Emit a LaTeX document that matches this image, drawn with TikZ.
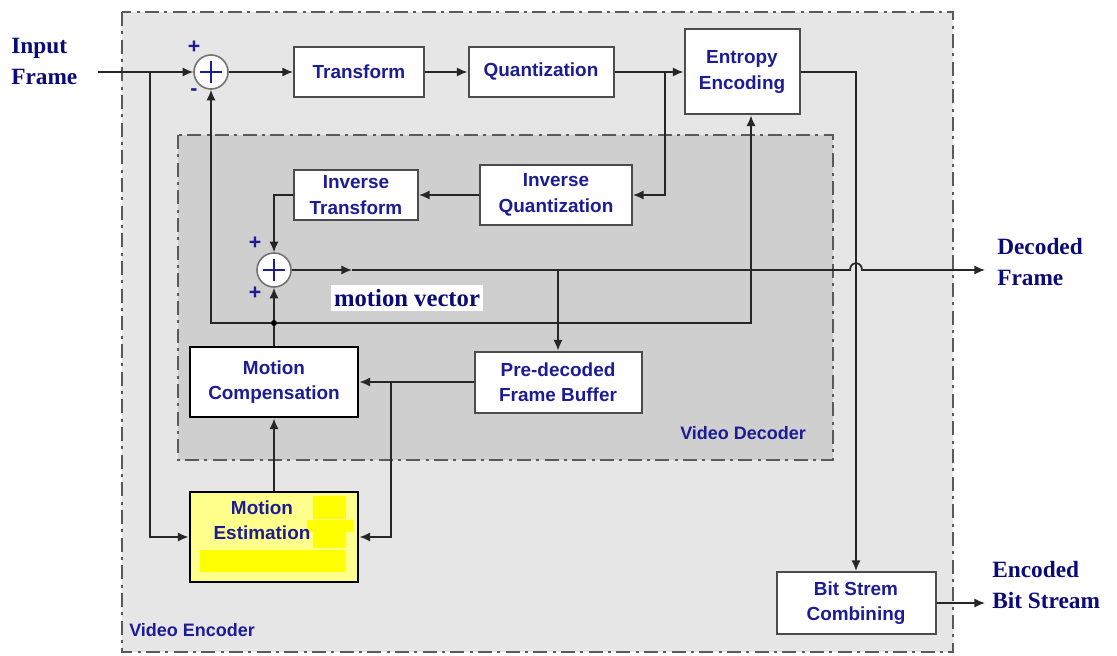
\documentclass[tikz,border=0pt]{standalone}
\usepackage{fontspec}
\setmainfont{Liberation Serif}
\setsansfont{Liberation Sans}
\usetikzlibrary{arrows.meta}
\definecolor{encbg}{HTML}{E6E6E6}
\definecolor{decbg}{HTML}{CFCFCF}
\definecolor{frameline}{HTML}{5A5A5A}
\definecolor{boxtext}{RGB}{28,28,150}
\definecolor{iotext}{RGB}{10,10,120}
\definecolor{mefill}{HTML}{FFFF8C}
\definecolor{mepatch}{HTML}{FFFF00}
\begin{document}
\begin{tikzpicture}[x=0.75pt,y=-0.75pt,
  conn/.style={line width=1.3pt, draw=black!85},
  arr/.style={conn, -{Latex[length=8pt,width=7pt]}},
  block/.style={draw=black!70, line width=1.5pt, fill=white, text=boxtext,
    font=\sffamily\bfseries\fontsize{14.2}{19}\selectfont, align=center, inner sep=0pt},
  heavy/.style={block, draw=black, line width=2.2pt},
  summer/.style={circle, draw=black!55, line width=1.2pt, fill=white, minimum size=34*0.75pt, inner sep=0pt},
  plus/.style={draw=boxtext, line width=0.9pt},
  sign/.style={text=boxtext, font=\sffamily\bfseries\fontsize{16}{16}\selectfont, inner sep=0pt},
  iolabel/.style={text=iotext, font=\rmfamily\bfseries\fontsize{17.5}{23}\selectfont, align=left, inner sep=0pt},
  region/.style={draw=frameline, line width=1.5pt,
    dash pattern=on 10.5pt off 4pt on 2.25pt off 4pt},
  regionlabel/.style={text=boxtext, font=\sffamily\bfseries\fontsize{13.5}{13.5}\selectfont, inner sep=0pt, anchor=west},
  dot/.style={circle, fill=black, inner sep=0pt, minimum size=4.5pt}
]
\useasboundingbox (0,0) rectangle (1117,656);

% encoder and decoder regions
\filldraw[region, fill=encbg] (122,12) rectangle (953,652);
\filldraw[region, fill=decbg] (178,135) rectangle (833,460);
\node[regionlabel] (enclabel) at (129,630) {Video Encoder};
\node[regionlabel] (declabel) at (680,433) {Video Decoder};

% processing blocks
\node[block, minimum width=130*0.75pt, minimum height=50*0.75pt] (transform) at (359,72) {Transform};
\node[block, minimum width=145*0.75pt, minimum height=50*0.75pt] (quant) at (541,72) {Quantization};
\node[block, minimum width=115*0.75pt, minimum height=85*0.75pt] (entropy) at (742,72) {Entropy\\Encoding};
\node[block, minimum width=152*0.75pt, minimum height=60*0.75pt] (iq) at (556,195) {Inverse\\Quantization};
\node[block, minimum width=124*0.75pt, minimum height=50*0.75pt] (it) at (356,195) {Inverse\\Transform};
\node[heavy, minimum width=168*0.75pt, minimum height=70*0.75pt] (mc) at (274,382) {Motion\\Compensation};
\node[block, minimum width=167*0.75pt, minimum height=61*0.75pt] (pdfb) at (558,382) {Pre-decoded\\Frame Buffer};
\node[block, minimum width=159*0.75pt, minimum height=62*0.75pt] (bsc) at (856,603) {Bit Strem\\Combining};

% motion estimation block with its highlighted patches
\fill[mefill] (190,492) rectangle (358,582);
\fill[mepatch] (313,496) rectangle (346,519);
\fill[mepatch] (307,520) rectangle (353,532);
\fill[mepatch] (313,532) rectangle (346,548);
\fill[mepatch] (200,550) rectangle (345,572);
\node[heavy, fill=none, minimum width=168*0.75pt, minimum height=90*0.75pt] (me) at (274,537) {};
\node[text=boxtext, font=\sffamily\bfseries\fontsize{14.2}{19}\selectfont, align=center, inner sep=0pt] (metext) at (262,520) {Motion\\Estimation};

% adders
\node[summer] (sum1) at (211,72) {};
\draw[plus] (sum1.center) ++(-11,0) -- ++(22,0);
\draw[plus] (sum1.center) ++(0,-11) -- ++(0,22);
\node[summer] (sum2) at (274,270) {};
\draw[plus] (sum2.center) ++(-11,0) -- ++(22,0);
\draw[plus] (sum2.center) ++(0,-11) -- ++(0,22);
\node[sign] (s1p) at (194,47) {+};
\node[sign] (s1m) at (194,92) {-};
\node[sign] (s2a) at (255,243) {+};
\node[sign] (s2b) at (255,293) {+};

% outside labels
\node[iolabel, anchor=north west] (input) at (11,38) {Input\\Frame};
\node[iolabel, anchor=west] (decoded) at (997,262) {Decoded\\Frame};
\node[iolabel, anchor=west] (encoded) at (992,585) {Encoded\\Bit Stream};
\node[fill=white, text=iotext, font=\rmfamily\bfseries\fontsize{18.5}{18.5}\selectfont,
      inner xsep=2pt, inner ysep=3pt] (mv) at (407,298) {motion vector};

% junction points
\coordinate (inL) at (98,72);
\coordinate (jin) at (150,72);
\coordinate (jq) at (665,72);
\coordinate (jout) at (558,270);
\coordinate (mid) at (352,270);
\coordinate (hopL) at (850,270);
\coordinate (hopR) at (862,270);
\coordinate (outD) at (985,270);
\coordinate (loop) at (274,323);
\coordinate (loopR) at (751,323);
\coordinate (jbuf) at (391,382);
\coordinate (outE) at (985,603);

% forward path
\draw[arr] (inL) -- (sum1.west);
\draw[arr] (jin) |- (me.west);
\draw[arr] (sum1.east) -- (transform.west);
\draw[arr] (transform.east) -- (quant.west);
\draw[arr] (quant.east) -- (entropy.west);
\draw[arr] (entropy.east) -| (bsc.north);
\draw[arr] (bsc.east) -- (outE);

% reconstruction path
\draw[arr] (jq) |- (iq.east);
\draw[arr] (iq.west) -- (it.east);
\draw[arr] (it.west) -| (sum2.north);
\draw[arr] (sum2.east) -- (mid);
\draw[arr] (mid) -- (hopL) .. controls (850,261) and (862,261) .. (hopR) -- (outD);
\draw[arr] (jout) -- (pdfb.north);

% prediction loop
\draw[arr] (pdfb.west) -- (mc.east);
\draw[arr] (jbuf) |- (me.east);
\draw[arr] (me.north) -- (mc.south);
\draw[arr] (mc.north) -- (sum2.south);
\draw[arr] (loop) -| (sum1.south);
\draw[arr] (loop) -- (loopR) -- (loopR |- entropy.south);
\node[dot] (loopdot) at (loop) {};
\end{tikzpicture}
\end{document}
